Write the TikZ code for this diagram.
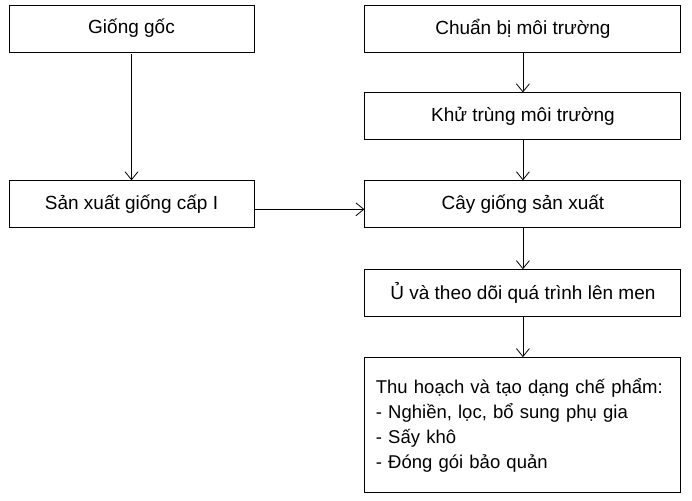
\documentclass[tikz,border=0pt]{standalone}
\usepackage{fontspec}
\setmainfont{Liberation Sans}
\usetikzlibrary{arrows.meta, positioning}
\tikzstyle{stage} = [rectangle, draw, line width=0.9pt, minimum width=245pt, minimum height=47pt, text centered, font=\fontsize{19}{25}\selectfont]
\tikzstyle{prep} = [stage, minimum width=316pt]
\tikzstyle{final} = [prep, minimum height=135pt, text width=294pt, inner xsep=11pt, align=left, font=\fontsize{18.5}{25}\selectfont]
\tikzstyle{flow} = [line width=0.8pt, -{Straight Barb[length=8pt, width=13pt, line width=0.8pt]}]

\begin{document}
\begin{tikzpicture}[node distance=40pt]
\useasboundingbox (0,0) rectangle (692pt,-500pt);
%Left column
\node (goc) [stage] at (131.5pt,-28.5pt) {Giống gốc};
%Right column
\node (chuanbi) [prep, right = 110pt of goc] {Chuẩn bị môi trường};
\node (khutrung) [prep, below = of chuanbi] {Khử trùng môi trường};
\node (cay) [prep, below = of khutrung] {Cây giống sản xuất};
\node (u) [prep, below = 41pt of cay] {Ủ và theo dõi quá trình lên men};
\node (thu) [final, below = of u] {Thu hoạch và tạo dạng chế phẩm:\\- Nghiền, lọc, bổ sung phụ gia\\- Sấy khô\\- Đóng gói bảo quản};
\node (capI) [stage, left = 110pt of cay] {Sản xuất giống cấp I};
\draw [flow] ([yshift=-2pt]goc.south) -- (capI.north);
\draw [flow] (chuanbi) -- (khutrung);
\draw [flow] (khutrung) -- (cay);
\draw [flow] (cay) -- (u);
\draw [flow] (u) -- (thu);
\draw [flow] ([yshift=-5pt]capI.east) -- ([yshift=-5pt]cay.west);
\end{tikzpicture}
\end{document}
